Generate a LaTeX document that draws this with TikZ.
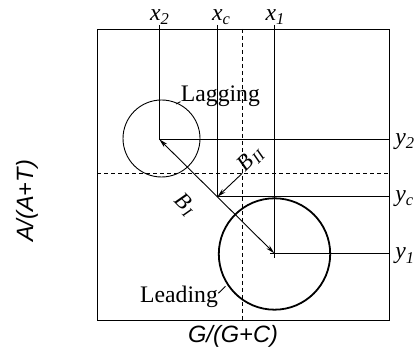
\documentclass[tikz,border=0pt]{standalone}
\usepackage{fontspec}
\setmainfont{Liberation Serif}
\setsansfont{Liberation Sans}
\usetikzlibrary{arrows.meta,calc}
\newcommand{\lblsub}[2]{\textit{#1}\raisebox{-0.4ex}{\fontsize{16.5}{18}\selectfont\textit{#2}}}
\newcommand{\bsub}[2]{\textit{#1}\kern0.8pt\raisebox{-0.3ex}{\fontsize{16}{18}\selectfont\textit{#2}}}
\begin{document}
\begin{tikzpicture}[x=1pt,y=-1pt,line width=0.9pt,
  lbl/.style={font=\fontsize{23.7}{28}\selectfont,inner sep=0pt},
  axlbl/.style={font=\sffamily\itshape\fontsize{23.6}{28}\selectfont,inner sep=0pt},
  blbl/.style={font=\fontsize{22.5}{26}\selectfont,inner sep=0pt},
  dashline/.style={dash pattern=on 4pt off 3pt},
  arr/.style={-{Stealth[length=9pt,width=4.5pt]}},
  darr/.style={{Stealth[length=9pt,width=4.5pt]}-{Stealth[length=9pt,width=4.5pt]}}]
\useasboundingbox (0,0) rectangle (418,352);
% frame
\draw (97.3,29) rectangle (389,320.7);
% key points
\coordinate (lag) at (159.3,139.3);
\coordinate (lead) at (274.3,253.3);
\coordinate (C) at ($(lag)!0.505!(lead)$);
\coordinate (D) at (242.3,173.3);
% dashed lines
\draw[dashline] (242.3,29) -- (242.3,320.7);
\draw[dashline] (97.3,173.3) -- (389,173.3);
% circles
\draw (161.5,138.5) circle[radius=38.5];
\draw[line width=1.8pt] (274.5,254) circle[radius=55.7];
% coordinate lines
\coordinate (x2top) at (159.3,25);
\coordinate (x1top) at (274.3,25);
\coordinate (y2end) at (390,139.3);
\coordinate (y1end) at (390,253.3);
\draw (x2top) -- (lag) -- (y2end);
\draw (x1top) -- (lead) -- (y1end);
\draw (C |- x2top) -- (C) -- (C -| y2end);
% cross at leading center
\draw ([xshift=-4pt]lead) -- ([xshift=4pt]lead);
\draw (lead) -- ([yshift=-5pt]lead);
% arrows
\draw[darr,line width=0.9pt] (lag) -- (lead);
\draw[arr,line width=0.9pt] (D) -- (C);
% axis labels
\node[lbl,anchor=base] (lx2) at (159.5,20.5) {\lblsub{x}{2}};
\node[lbl,anchor=base] (lxc) at (221,20.5) {\lblsub{x}{c}};
\node[lbl,anchor=base] (lx1) at (275,20.5) {\lblsub{x}{1}};
\node[lbl,anchor=base west] (ly2) at (395,144.5) {\lblsub{y}{2}};
\node[lbl,anchor=base west] (lyc) at (395,201.5) {\lblsub{y}{c}};
\node[lbl,anchor=base west] (ly1) at (395,258.8) {\lblsub{y}{1}};
% arrow labels
\node[blbl,rotate=45] (bII) at (251,159) {\bsub{B}{II}};
\node[blbl,rotate=-45] (bI) at (185,205) {\bsub{B}{I}};
% circle labels
\node[lbl,anchor=base west] (lagging) at (180.5,101.7) {Lagging};
\node[lbl,anchor=base east] (leading) at (218.3,302.7) {Leading};
\coordinate (lagtick) at (176,104);
\coordinate (leadtick) at (225.5,286.3);
\draw (lagtick) -- (lagging.base west);
\draw (leadtick) -- ($(leading.base east)+(0,-9.4)$);
% axis titles
\node[axlbl,anchor=base] (gx) at (233,343) {G/(G+C)};
\node[axlbl,anchor=base,rotate=90] (ay) at (33,201) {A/(A+T)};
\end{tikzpicture}
\end{document}
